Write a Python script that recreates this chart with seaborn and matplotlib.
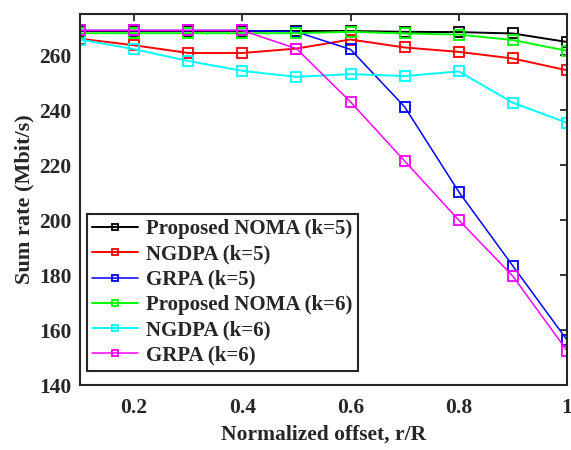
import matplotlib
matplotlib.use("Agg")
import matplotlib.pyplot as plt
import seaborn as sns
import pandas as pd

x_offset = [0.1, 0.2, 0.3, 0.4, 0.5, 0.6, 0.7, 0.8, 0.9, 1.0]
noma_k5 = [268.8, 268.8, 268.8, 268.8, 268.8, 268.8, 268.5, 268.4, 267.9, 264.8]
ngdpa_k5 = [266.0, 263.6, 260.8, 260.8, 262.4, 265.7, 262.8, 261.2, 258.8, 254.5]
grpa_k5 = [269.0, 269.0, 269.0, 269.0, 268.5, 262.1, 241.2, 210.3, 183.3, 156.4]
noma_k6 = [268.0, 268.0, 268.0, 268.0, 268.0, 268.5, 267.9, 267.5, 265.5, 261.6]
ngdpa_k6 = [265.7, 262.2, 257.9, 254.3, 252.1, 253.1, 252.4, 254.1, 242.7, 235.4]
grpa_k6 = [269.0, 269.0, 269.0, 269.0, 262.4, 243.0, 221.5, 200.0, 179.6, 152.5]

series_names = ["Proposed NOMA (k=5)", "NGDPA (k=5)", "GRPA (k=5)",
                "Proposed NOMA (k=6)", "NGDPA (k=6)", "GRPA (k=6)"]
series_values = [noma_k5, ngdpa_k5, grpa_k5, noma_k6, ngdpa_k6, grpa_k6]
colors = ["#000000", "#FF0000", "#0000FF", "#00FF00", "#00FFFF", "#FF00FF"]
linewidths = [1.4, 1.4, 1.1, 1.4, 1.4, 1.1]

x_ticks = [0.2, 0.4, 0.6, 0.8, 1.0]
x_ticklabels = ["0.2", "0.4", "0.6", "0.8", "1"]
y_ticks = [140, 160, 180, 200, 220, 240, 260]

sns.set_style("white")
plt.rcParams["font.family"] = ["Liberation Serif", "DejaVu Serif"]
plt.rcParams["font.weight"] = "bold"

fig = plt.figure(figsize=(5.71, 4.5), dpi=100)
ax = fig.add_axes([0.140, 0.1444, 0.853, 0.8246])

for name, vals, c, lw in zip(series_names, series_values, colors, linewidths):
    df = pd.DataFrame({"x": x_offset, "y": vals})
    sns.lineplot(data=df, x="x", y="y", ax=ax, color=c, linewidth=lw,
                 marker="s", markersize=7, markerfacecolor="none",
                 markeredgecolor=c, markeredgewidth=1.3, label=name)

ax.set_xlim(0.1, 1.0)
ax.set_ylim(140, 275)
ax.set_xticks(x_ticks)
ax.set_xticklabels(x_ticklabels)
ax.set_yticks(y_ticks)
ax.tick_params(direction="in", length=5, width=1.3, top=True, right=True,
               labelsize=15.5, colors="#262626")
ax.tick_params(axis="x", pad=9)
ax.tick_params(axis="y", pad=6)
for lab in ax.get_xticklabels() + ax.get_yticklabels():
    lab.set_fontweight("bold")
for sp in ax.spines.values():
    sp.set_color("#262626")
    sp.set_linewidth(1.5)

ax.set_xlabel("Normalized offset, r/R", fontsize=15.5, fontweight="bold", color="#262626", labelpad=5)
ax.set_ylabel("Sum rate (Mbit/s)", fontsize=16, fontweight="bold", color="#262626", labelpad=3)

leg = ax.legend(loc="lower left", bbox_to_anchor=(0.0138, 0.0385), borderaxespad=0,
                frameon=True, fancybox=False, framealpha=1, edgecolor="#262626",
                prop={"family": "Liberation Serif", "weight": "bold", "size": 15},
                handlelength=2.2, markerscale=0.6, labelspacing=0.25, borderpad=0.25,
                handletextpad=0.4)
leg.get_frame().set_linewidth(1.5)

fig.savefig("out.png", dpi=100)
